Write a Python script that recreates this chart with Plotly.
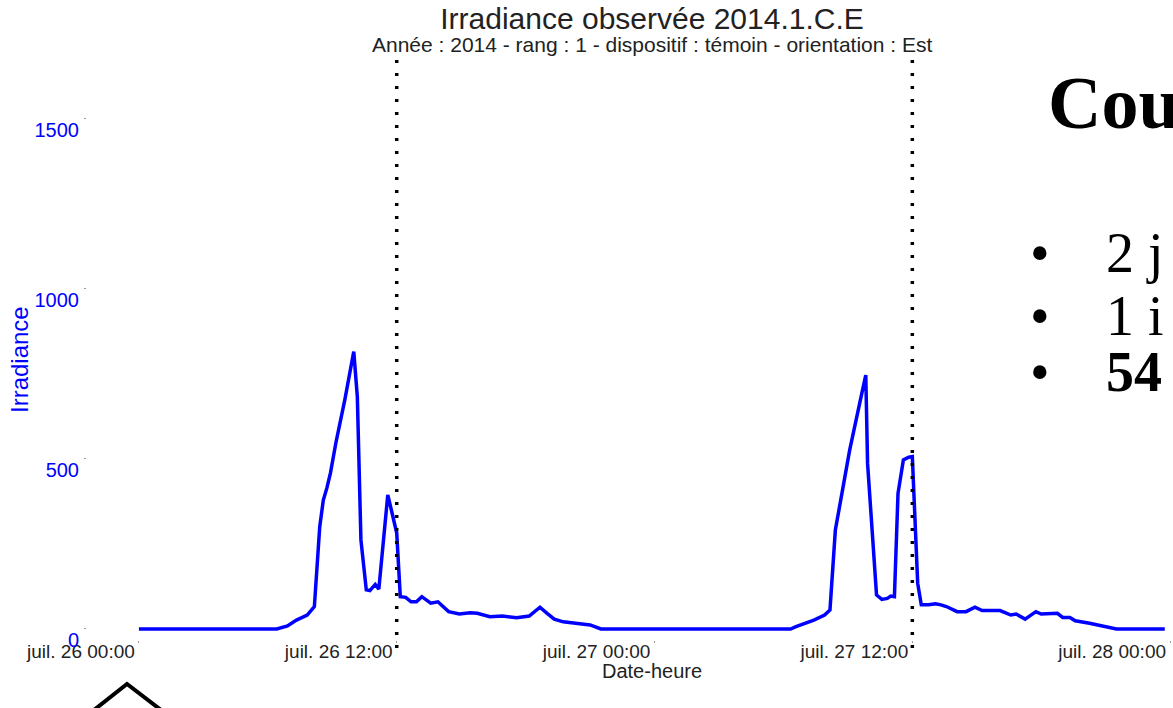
import pandas as pd
import plotly.graph_objects as go

# Irradiance series (W/m²), station 2014.1.C.E, 26–27 July 2014
times = [
    "2014-07-26 00:00", "2014-07-26 06:25", "2014-07-26 06:55", "2014-07-26 07:20",
    "2014-07-26 07:50", "2014-07-26 08:10", "2014-07-26 08:25", "2014-07-26 08:35",
    "2014-07-26 08:45", "2014-07-26 08:55", "2014-07-26 09:10", "2014-07-26 09:35",
    "2014-07-26 10:00", "2014-07-26 10:10", "2014-07-26 10:20", "2014-07-26 10:35",
    "2014-07-26 10:45", "2014-07-26 11:00", "2014-07-26 11:10", "2014-07-26 11:35",
    "2014-07-26 11:45", "2014-07-26 12:00", "2014-07-26 12:10", "2014-07-26 12:25",
    "2014-07-26 12:40", "2014-07-26 12:55", "2014-07-26 13:10", "2014-07-26 13:35",
    "2014-07-26 13:55", "2014-07-26 14:25", "2014-07-26 14:55", "2014-07-26 15:25",
    "2014-07-26 15:45", "2014-07-26 16:20", "2014-07-26 16:55", "2014-07-26 17:35",
    "2014-07-26 18:10", "2014-07-26 18:40", "2014-07-26 19:00", "2014-07-26 19:20",
    "2014-07-26 19:45", "2014-07-26 20:25", "2014-07-26 21:00", "2014-07-26 21:30",
    "2014-07-27 06:20", "2014-07-27 06:35", "2014-07-27 07:25", "2014-07-27 07:55",
    "2014-07-27 08:10", "2014-07-27 08:25", "2014-07-27 08:40", "2014-07-27 09:05",
    "2014-07-27 09:35", "2014-07-27 09:50", "2014-07-27 09:55", "2014-07-27 10:10",
    "2014-07-27 10:20", "2014-07-27 10:35", "2014-07-27 10:50", "2014-07-27 11:00",
    "2014-07-27 11:10", "2014-07-27 11:20", "2014-07-27 11:35", "2014-07-27 11:50",
    "2014-07-27 12:00", "2014-07-27 12:15", "2014-07-27 12:25", "2014-07-27 12:45",
    "2014-07-27 13:05", "2014-07-27 13:20", "2014-07-27 13:35", "2014-07-27 14:05",
    "2014-07-27 14:30", "2014-07-27 14:55", "2014-07-27 15:15", "2014-07-27 16:05",
    "2014-07-27 16:35", "2014-07-27 16:50", "2014-07-27 17:15", "2014-07-27 17:45",
    "2014-07-27 18:00", "2014-07-27 18:45", "2014-07-27 19:00", "2014-07-27 19:20",
    "2014-07-27 19:35", "2014-07-27 20:15", "2014-07-27 20:55", "2014-07-27 21:30",
    "2014-07-27 23:45",
]
irradiance = [
    0, 0, 9, 26,
    41, 66, 301, 379,
    415, 459, 547, 674,
    816, 683, 262, 115,
    113, 131, 117, 394,
    350, 282, 95, 93,
    80, 80, 95, 76,
    80, 51, 44, 48,
    46, 36, 38, 33,
    38, 64, 46, 29,
    21, 17, 12, 0,
    0, 7, 26, 41,
    56, 291, 379, 526,
    674, 747, 487, 271,
    100, 87, 90, 97,
    95, 399, 497, 505,
    507, 134, 71, 71,
    74, 71, 66, 51,
    51, 64, 54, 54,
    41, 44, 29, 51,
    44, 46, 34, 34,
    24, 17, 7, 0,
    0,
]

tick_times = ["2014-07-26 00:00", "2014-07-26 12:00", "2014-07-27 00:00",
              "2014-07-27 12:00", "2014-07-28 00:00"]
tick_labels = ["juil. 26 00:00", "juil. 26 12:00", "juil. 27 00:00",
               "juil. 27 12:00", "juil. 28 00:00"]
noon_marks = ["2014-07-26 12:00", "2014-07-27 12:00"]
y_ticks = [0, 500, 1000, 1500]

W, H = 1173, 708
ML, MR, MT, MB = 87, 0, 60, 68
PW, PH = W - ML - MR, H - MT - MB


def px_x(px):
    return (px - ML) / PW


def px_y(py):
    return (H - MB - py) / PH


BLUE = "#0000ff"
SANS = "Liberation Sans, Arial, sans-serif"
SERIF = "Liberation Serif, Times New Roman, serif"

fig = go.Figure()
fig.add_trace(go.Scatter(
    x=pd.to_datetime(times), y=irradiance, mode="lines",
    line=dict(color=BLUE, width=3.5), hoverinfo="skip", showlegend=False,
))

# dotted markers at noon, drawn top-down so the dot pattern starts at the top
for t in noon_marks:
    fig.add_shape(type="line", xref="x", yref="paper", x0=t, x1=t,
                  y0=px_y(60), y1=px_y(657),
                  line=dict(color="black", width=3.5, dash="3px,10px"))

# slide decoration: chevron at bottom left
fig.add_shape(type="path", xref="paper", yref="paper",
              path=f"M {px_x(94)} {px_y(710)} L {px_x(127)} {px_y(684)} L {px_x(161)} {px_y(710)}",
              line=dict(color="black", width=4))

annotations = [
    dict(text="Année : 2014 - rang : 1 - dispositif : témoin - orientation : Est",
         x=px_x(652), y=px_y(45), font=dict(size=21, color="#222", family=SANS)),
    dict(text="Date-heure", x=px_x(652), y=px_y(671),
         font=dict(size=20, color="#222", family=SANS)),
    dict(text="Irradiance", x=px_x(20), y=px_y(360), textangle=-90,
         font=dict(size=24, color=BLUE, family=SANS)),
    dict(text="<b>Cou</b>", x=px_x(1046), y=px_y(103), xanchor="left",
         font=dict(size=74, color="black", family=SERIF)),
]
for yy in (253, 316, 372):
    annotations.append(dict(text="•", x=px_x(1040), y=px_y(yy),
                            font=dict(size=56, color="black", family=SERIF)))
for txt, yy in (("2 j", 253), ("1 i", 316), ("<b>54</b>", 372)):
    annotations.append(dict(text=txt, x=px_x(1104), y=px_y(yy), xanchor="left",
                            font=dict(size=56, color="black", family=SERIF)))
for a in annotations:
    a.setdefault("xanchor", "center")
    a.update(xref="paper", yref="paper", yanchor="middle", showarrow=False)

fig.update_layout(
    width=W, height=H,
    margin=dict(l=ML, r=MR, t=MT, b=MB, pad=0),
    paper_bgcolor="white", plot_bgcolor="white",
    showlegend=False,
    title=dict(text="Irradiance observée 2014.1.C.E", xref="container", yref="container",
               x=652 / W, y=1 - 18 / H, xanchor="center", yanchor="middle",
               font=dict(size=30, color="#222", family=SANS)),
    annotations=annotations,
    xaxis=dict(
        range=["2014-07-25 21:35", "2014-07-28 00:08"],
        tickvals=tick_times, ticktext=tick_labels,
        showgrid=False, zeroline=False, showline=False,
        ticks="outside", ticklen=2, tickwidth=1, tickcolor="#999",
        tickfont=dict(size=19, color="#222", family=SANS),
        ticklabelshift=-58, ticklabelstandoff=-8, automargin=False,
    ),
    yaxis=dict(
        range=[-32.4, 1673.5],
        tickvals=y_ticks,
        showgrid=False, zeroline=False, showline=False,
        ticks="outside", ticklen=2, tickwidth=1, tickcolor="#999",
        tickfont=dict(size=20, color=BLUE, family=SANS),
        ticklabelshift=11, ticklabelstandoff=1, automargin=False,
    ),
)

fig.write_html("out.html")
